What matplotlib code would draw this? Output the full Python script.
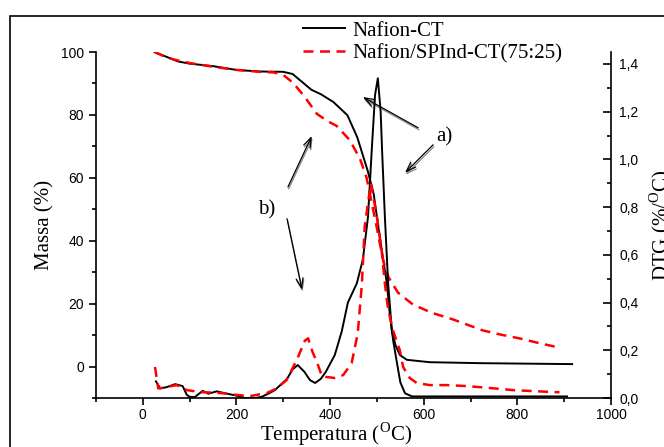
import matplotlib
matplotlib.use('Agg')
import matplotlib.pyplot as plt
from matplotlib.ticker import MultipleLocator, FuncFormatter
from matplotlib.patches import Rectangle
from matplotlib.lines import Line2D

plt.rcParams['mathtext.fontset'] = 'custom'
plt.rcParams['mathtext.rm'] = 'Liberation Serif'

SERIF = 'Liberation Serif'
SANS = 'Liberation Sans'

# TG curves (left axis, Massa %)
tg_ct_T = [25, 50, 75, 100, 150, 200, 250, 300, 320, 340, 360, 380, 407, 437,
           458, 480, 493, 506, 521, 528, 535, 543, 550, 560, 575, 906]
tg_ct_m = [100, 98.5, 97.0, 96.3, 95.5, 94.3, 93.8, 93.7, 93.0, 90.5, 88.0, 86.6,
           84.1, 79.9, 72.9, 62.4, 55.0, 41.3, 26.7, 16.0, 8.0, 1.0, -5.0, -8.5,
           -9.5, -9.5]

tg_sp_T = [25, 50, 75, 100, 150, 200, 250, 280, 300, 321, 346, 372, 395, 414,
           442, 464, 478, 489, 500, 513, 524, 545, 577, 617, 662, 726, 763, 806,
           842, 890]
tg_sp_m = [100, 98.3, 97.3, 96.5, 95.3, 94.3, 93.7, 93.5, 92.7, 90.2, 85.7, 80.3,
           78.0, 76.5, 72.0, 66.0, 60.0, 52.0, 44.0, 34.0, 28.6, 23.5, 19.7, 17.1,
           15.0, 11.5, 10.2, 8.9, 7.6, 6.0]

# DTG curves (right axis, %/oC)
dtg_ct_T = [28, 37, 50, 69, 85, 94, 100, 111, 128, 140, 158, 175, 200, 218, 240,
            254, 270, 282, 308, 320, 331, 345, 357, 368, 380, 391, 410, 425, 438,
            457, 470, 481, 489, 496, 502, 508, 511, 517, 524, 532, 540, 549, 564,
            613, 720, 917]
dtg_ct_v = [0.07, 0.04, 0.045, 0.058, 0.05, 0.013, 0.005, 0.004, 0.03, 0.018,
            0.028, 0.02, 0.01, 0.0, 0.0, 0.005, 0.02, 0.033, 0.08, 0.12, 0.138,
            0.11, 0.075, 0.063, 0.08, 0.11, 0.18, 0.28, 0.40, 0.48, 0.58, 0.76,
            1.04, 1.27, 1.34, 1.2, 1.04, 0.76, 0.48, 0.28, 0.22, 0.18, 0.16, 0.15,
            0.146, 0.142]

dtg_sp_T = [26, 33, 51, 72, 94, 122, 165, 200, 229, 265, 286, 307, 329, 346, 353,
            363, 370, 383, 410, 428, 446, 459, 468, 474, 487, 500, 510, 517, 524,
            535, 549, 556, 570, 585, 613, 650, 692, 741, 791, 833, 876, 890]
dtg_sp_v = [0.13, 0.04, 0.046, 0.054, 0.033, 0.025, 0.021, 0.013, 0.008, 0.021,
            0.04, 0.075, 0.16, 0.24, 0.25, 0.19, 0.16, 0.09, 0.084, 0.096, 0.146,
            0.27, 0.48, 0.72, 0.9, 0.76, 0.62, 0.48, 0.37, 0.28, 0.2, 0.13, 0.084,
            0.063, 0.054, 0.054, 0.05, 0.042, 0.033, 0.029, 0.025, 0.024]

labels = ['Nafion-CT', 'Nafion/SPInd-CT(75:25)']

fig = plt.figure(figsize=(6.64, 4.47), dpi=100)
ax = fig.add_axes([96 / 664, 49 / 447, 515 / 664, 346 / 447])
ax2 = ax.twinx()

red_dash = dict(color='#ff0000', lw=1.8, dashes=(4, 2.6))
ax.plot(tg_ct_T, tg_ct_m, color='black', lw=1.4)
ax.plot(tg_sp_T, tg_sp_m, **red_dash)
ax2.plot(dtg_ct_T, dtg_ct_v, color='black', lw=1.4)
ax2.plot(dtg_sp_T, dtg_sp_v, **red_dash)

ax.set_xlim(-100, 1000)
ax.set_ylim(-10, 100)
ax2.set_ylim(0, 1.45)

ax.xaxis.set_major_locator(MultipleLocator(200))
ax.xaxis.set_minor_locator(MultipleLocator(100))
ax.yaxis.set_major_locator(MultipleLocator(20))
ax.yaxis.set_minor_locator(MultipleLocator(10))
ax2.yaxis.set_major_locator(MultipleLocator(0.2))
ax2.yaxis.set_minor_locator(MultipleLocator(0.1))
ax2.yaxis.set_major_formatter(FuncFormatter(lambda v, p: f'{v:.1f}'.replace('.', ',')))

for a in (ax, ax2):
    a.spines['top'].set_visible(False)
    for s in a.spines.values():
        s.set_linewidth(1.2)
ax.spines['right'].set_visible(False)
ax2.spines['left'].set_visible(False)
ax2.spines['bottom'].set_visible(False)

ax.tick_params(axis='both', which='major', direction='out', length=5, width=1.2,
               labelsize=10)
ax.tick_params(axis='x', which='major', pad=2)
ax.tick_params(axis='both', which='minor', direction='out', length=3, width=1.2)
ax2.tick_params(axis='y', which='major', direction='in', length=6, width=1.2,
                labelsize=10, pad=6)
ax2.tick_params(axis='y', which='minor', direction='in', length=3, width=1.2)
for lab in ax.get_xticklabels() + ax.get_yticklabels() + ax2.get_yticklabels():
    lab.set_fontfamily(SANS)

ax.set_xlabel('Temperatura ($^{\\mathrm{O}}$C)', fontsize=15, family=SERIF)
ax.xaxis.set_label_coords(0.466, -0.0645)
ax.set_ylabel('Massa (%)', fontsize=15, family=SERIF, labelpad=5)
ax2.set_ylabel('DTG (%/$^{\\mathrm{O}}$C)', fontsize=15, family=SERIF, labelpad=6)

# sketchy annotation arrows
arrows = [((470, 85.7), (588, 75.9)), ((560, 61.6), (620, 70.5)),
          ((361, 73.3), (310, 57.1)), ((340, 24.4), (308, 47.0))]
for head, tail in arrows:
    for dx, dy, col in ((1.5, -0.6, '#888888'), (0, 0, 'black')):
        ax.annotate('', xy=(head[0] + dx, head[1] + dy),
                    xytext=(tail[0] + dx, tail[1] + dy),
                    arrowprops=dict(arrowstyle='->,head_length=0.7,head_width=0.25',
                                    color=col, lw=0.9, shrinkA=0, shrinkB=0))
ax.text(645, 73, 'a)', fontsize=15, family=SERIF, ha='center', va='center')
ax.text(265, 49.8, 'b)', fontsize=15, family=SERIF, ha='center', va='center')

handles = [Line2D([], [], color='black', lw=1.4),
           Line2D([], [], **red_dash)]
fig.legend(handles, labels, loc='upper left', bbox_to_anchor=(303 / 664, 1 - 21 / 447),
           frameon=False, prop={'family': SERIF, 'size': 15}, handlelength=2.0,
           handletextpad=0.35, labelspacing=0.15, borderpad=0, borderaxespad=0)

# outer frame
fig.add_artist(Rectangle((10 / 664, -0.05), 1.1, 1 - 16 / 447 + 0.05,
                         transform=fig.transFigure, fill=False, lw=1.2,
                         edgecolor='black', clip_on=False))

fig.savefig('out.png', dpi=100, facecolor='white')
